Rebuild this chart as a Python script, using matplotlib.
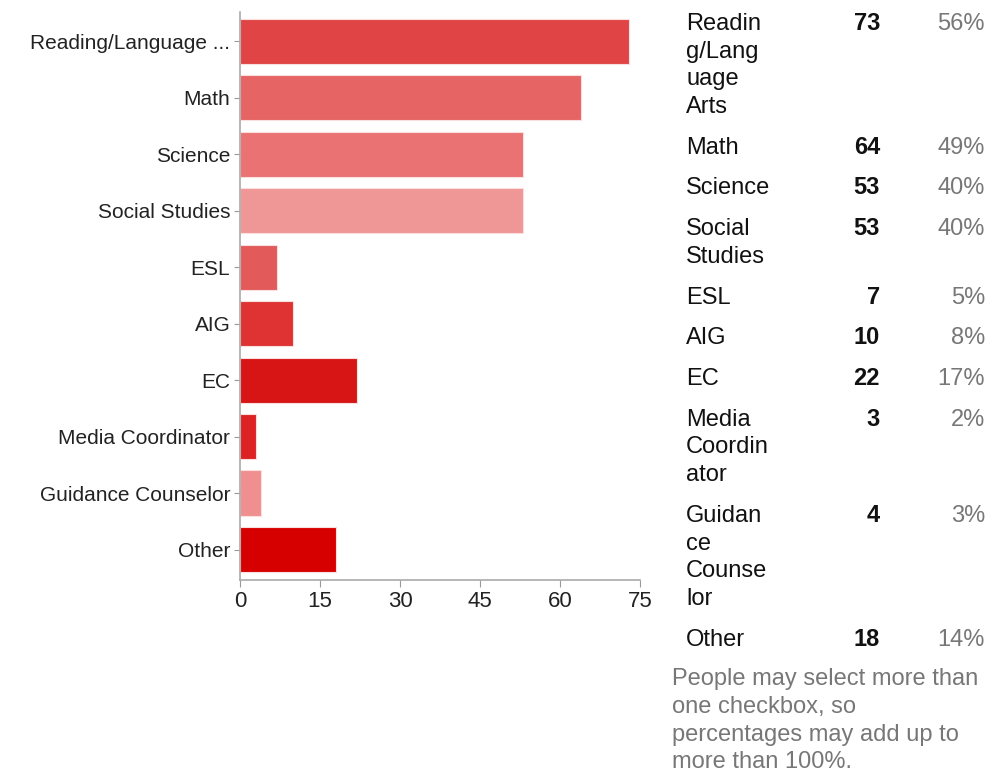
import matplotlib
matplotlib.use("Agg")
import matplotlib.pyplot as plt

plt.rcParams['font.family'] = ['Liberation Sans', 'DejaVu Sans']

categories = ["Reading/Language ...", "Math", "Science", "Social Studies", "ESL",
              "AIG", "EC", "Media Coordinator", "Guidance Counselor", "Other"]
counts = [73, 64, 53, 53, 7, 10, 22, 3, 4, 18]
percents = ["56%", "49%", "40%", "40%", "5%", "8%", "17%", "2%", "3%", "14%"]
table_labels = ["Readin\ng/Lang\nuage\nArts", "Math", "Science", "Social\nStudies", "ESL",
                "AIG", "EC", "Media\nCoordin\nator", "Guidan\nce\nCounse\nlor", "Other"]
bar_colors = ["#e04444", "#e66464", "#ea7272", "#ef9696", "#e35a5a",
              "#df3333", "#d81515", "#dc2222", "#ef8f8f", "#d60000"]
xticks = [0, 15, 30, 45, 60, 75]
note = "People may select more than\none checkbox, so\npercentages may add up to\nmore than 100%."

W, H = 997, 772
fig = plt.figure(figsize=(W / 100, H / 100), dpi=100)
ax = fig.add_axes([240 / W, (H - 580) / H, 400 / W, 568 / H])

y = range(len(categories))
ax.barh(y, counts, height=0.8, color=bar_colors, edgecolor="#fbdede", linewidth=0.8)
ax.set_xlim(0, 75)
ax.set_ylim(9.54, -0.52)
ax.set_xticks(xticks)
ax.set_yticks(list(y))
ax.set_yticklabels(categories, fontsize=15, color="#222222")
ax.tick_params(axis="x", labelsize=16, colors="#999999", labelcolor="#222222", length=5, pad=3)
ax.tick_params(axis="y", colors="#999999", labelcolor="#222222", length=4, pad=3)
for s in ["top", "right"]:
    ax.spines[s].set_visible(False)
for s in ["left", "bottom"]:
    ax.spines[s].set_color("#aaaaaa")
    ax.spines[s].set_linewidth(1.2)


def px(xp, yp):
    return xp / W, 1 - yp / H


fs = 17
line_h = 27.7
row_pad = 13
base = 30  # baseline of first line
for lab, c, p in zip(table_labels, counts, percents):
    lines = lab.split("\n")
    for i, ln in enumerate(lines):
        fig.text(*px(686, base + i * line_h), ln, fontsize=fs, color="#111111", va="baseline", ha="left")
    fig.text(*px(880, base), str(c), fontsize=fs, fontweight="bold", color="#111111", va="baseline", ha="right")
    fig.text(*px(985, base), p, fontsize=fs, color="#777777", va="baseline", ha="right")
    base += len(lines) * line_h + row_pad

for i, ln in enumerate(note.split("\n")):
    fig.text(*px(672, base + i * line_h - 1), ln, fontsize=fs, color="#777777", va="baseline", ha="left")

fig.savefig("out.png", dpi=100)
